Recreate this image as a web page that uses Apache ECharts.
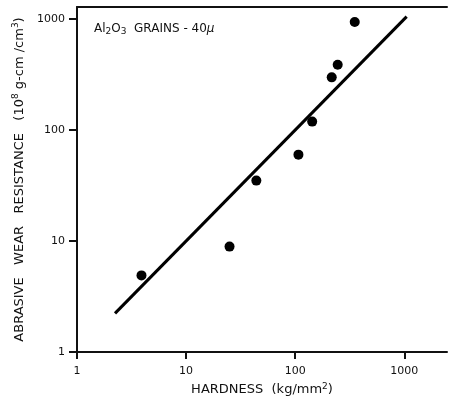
<!DOCTYPE html>
<html>
<head>
<meta charset="utf-8">
<script src="https://cdn.jsdelivr.net/npm/echarts@6/dist/echarts.min.js"></script>
<style>
  html, body { margin: 0; padding: 0; background: #fff; }
  #chart { width: 450px; height: 408px; }
</style>
</head>
<body>
<div id="chart"></div>
<script>
// hardness (kg/mm2) vs abrasive wear resistance (10^8 g-cm/cm3)
const hardness = [3.9, 25, 44, 107, 143, 216, 245, 351]
const wearResistance = [4.9, 8.9, 35, 60, 119, 298, 387, 940]
// fitted line end points
const fitLine = [[2.23, 2.23], [1050, 1050]]
const tickValues = [1, 10, 100, 1000]

const font = 'DejaVu Sans'
const ink = '#111'
const myChart = echarts.init(document.getElementById('chart'))
const option = {
  animation: false,
  title: {
    left: 89,
    top: 16,
    text: '{a|Al}{s|2}{a|O}{s|3}{a|  GRAINS - 40}{m|μ}',
    textStyle: {
      rich: {
        a: { fontFamily: font, fontSize: 12, fontWeight: 'normal', color: ink },
        s: { fontFamily: font, fontSize: 9, fontWeight: 'normal', color: ink, padding: [6, 0, 0, 0] },
        m: { fontFamily: font, fontSize: 12, fontWeight: 'normal', fontStyle: 'italic', color: ink }
      }
    }
  },
  grid: { left: 77, right: 3, top: 7, bottom: 56 },
  xAxis: [
    {
      type: 'log',
      logBase: 10,
      min: 1,
      max: 2460,
      name: 'HARDNESS  (kg/mm{sup|2})',
      nameLocation: 'middle',
      nameGap: 23,
      nameTextStyle: {
        fontFamily: font, fontSize: 13, color: ink, verticalAlign: 'top',
        rich: { sup: { fontFamily: font, fontSize: 9, color: ink, padding: [0, 0, 7, 0] } }
      },
      axisLine: { lineStyle: { color: ink, width: 2 } },
      axisTick: { length: 7, customValues: tickValues, lineStyle: { color: ink, width: 2 } },
      axisLabel: {
        margin: 14, customValues: tickValues, fontFamily: font, fontSize: 11, color: ink,
        formatter: v => String(v)
      },
      minorTick: { show: false },
      splitLine: { show: false }
    },
    {
      // top frame line only
      type: 'log',
      position: 'top',
      min: 1,
      max: 2460,
      axisLine: { lineStyle: { color: ink, width: 2 } },
      axisTick: { show: false },
      axisLabel: { show: false },
      splitLine: { show: false }
    }
  ],
  yAxis: {
    type: 'log',
    logBase: 10,
    min: 1,
    max: 1283,
    name: 'ABRASIVE   WEAR   RESISTANCE   (10{sup|8} g-cm /cm{sup|3})',
    nameLocation: 'middle',
    nameGap: 44,
    nameTextStyle: {
      fontFamily: font, fontSize: 13, color: ink,
      rich: { sup: { fontFamily: font, fontSize: 9, color: ink, padding: [0, 0, 8, 0] } }
    },
    axisLine: { lineStyle: { color: ink, width: 2 } },
    axisTick: { length: 8, customValues: tickValues, lineStyle: { color: ink, width: 2 } },
    axisLabel: {
      margin: 12, customValues: tickValues, fontFamily: font, fontSize: 11, color: ink,
      formatter: v => String(v)
    },
    splitLine: { show: false }
  },
  series: [
    {
      type: 'line',
      data: fitLine,
      symbol: 'none',
      lineStyle: { color: '#000', width: 3 },
      z: 2
    },
    {
      type: 'scatter',
      data: hardness.map((h, i) => [h, wearResistance[i]]),
      symbol: 'circle',
      symbolSize: 10,
      itemStyle: { color: '#000', opacity: 1 },
      z: 3
    }
  ]
}
myChart.setOption(option)
</script>
</body>
</html>
